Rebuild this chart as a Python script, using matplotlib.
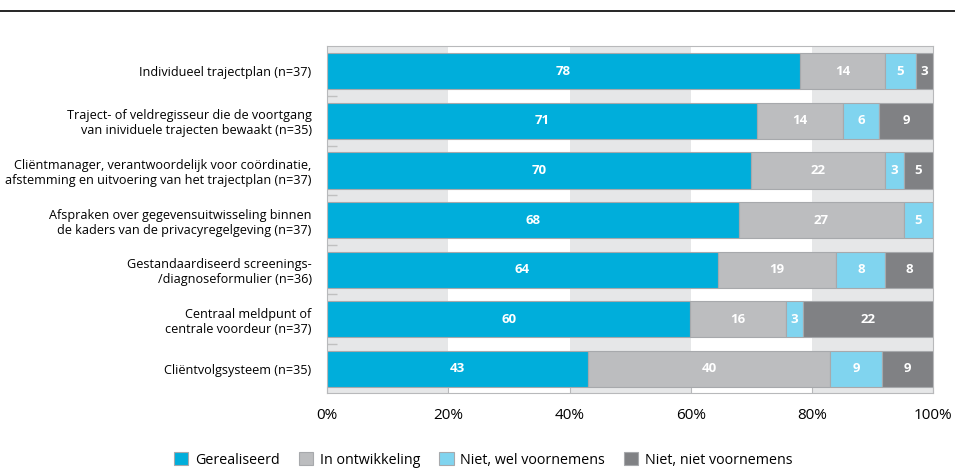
import matplotlib.pyplot as plt
from matplotlib.patches import Patch
from matplotlib.lines import Line2D

plt.rcParams['font.family'] = ['Open Sans', 'DejaVu Sans']

categories = [
    "Individueel trajectplan (n=37)",
    "Traject- of veldregisseur die de voortgang\nvan inividuele trajecten bewaakt (n=35)",
    "Cliëntmanager, verantwoordelijk voor coördinatie,\nafstemming en uitvoering van het trajectplan (n=37)",
    "Afspraken over gegevensuitwisseling binnen\nde kaders van de privacyregelgeving (n=37)",
    "Gestandaardiseerd screenings-\n/diagnoseformulier (n=36)",
    "Centraal meldpunt of\ncentrale voordeur (n=37)",
    "Cliëntvolgsysteem (n=35)",
]

# bar widths (percent)
gerealiseerd = [78.0, 71.0, 70.0, 68.0, 64.5, 59.9, 43.0]
in_ontwikkeling = [14.0, 14.1, 22.0, 27.1, 19.5, 15.8, 40.0]
wel_voornemens = [5.1, 5.9, 3.1, 4.9, 8.1, 2.8, 8.5]
niet_voornemens = [2.9, 9.0, 4.9, 0.0, 7.9, 21.5, 8.5]

# numbers printed in the bars
lab_gerealiseerd = [78, 71, 70, 68, 64, 60, 43]
lab_in_ontwikkeling = [14, 14, 22, 27, 19, 16, 40]
lab_wel_voornemens = [5, 6, 3, 5, 8, 3, 9]
lab_niet_voornemens = [3, 9, 5, None, 8, 22, 9]

series = [
    ("Gerealiseerd", gerealiseerd, lab_gerealiseerd, "#00aedb"),
    ("In ontwikkeling", in_ontwikkeling, lab_in_ontwikkeling, "#bcbdbf"),
    ("Niet, wel voornemens", wel_voornemens, lab_wel_voornemens, "#80d4ef"),
    ("Niet, niet voornemens", niet_voornemens, lab_niet_voornemens, "#808184"),
]

fig = plt.figure(figsize=(9.55, 4.7), dpi=100)
ax = fig.add_axes([327 / 955, 1 - 393 / 470, 606.3 / 955, 347 / 470])

# alternating background bands
for x0 in (0, 40, 80):
    ax.axvspan(x0, x0 + 20, color="#e6e7e8", zorder=0, lw=0)

y = list(range(len(categories)))
left = [0.0] * len(categories)
for name, vals, labs, col in series:
    ax.barh(y, vals, left=left, height=0.73, color=col, edgecolor="#a7a9ac",
            linewidth=0.8, zorder=2)
    for i, (v, l) in enumerate(zip(vals, labs)):
        if l is not None and v > 0:
            ax.text(left[i] + v / 2, i, str(l), ha="center", va="center",
                    color="white", fontsize=9.5, fontweight="bold", zorder=3)
    left = [a + b for a, b in zip(left, vals)]

ax.set_xlim(0, 100)
ax.set_ylim(6.488, -0.512)
ax.set_xticks([0, 20, 40, 60, 80, 100])
ax.set_xticklabels(["0%", "20%", "40%", "60%", "80%", "100%"], fontsize=11)
ax.set_yticks(y)
ax.set_yticklabels(categories, fontsize=9.1, linespacing=1.2)
ax.set_yticks([i + 0.5 for i in range(len(categories) - 1)], minor=True)
ax.tick_params(axis="y", which="major", length=0, pad=11)
ax.tick_params(axis="y", which="minor", direction="in", length=7,
               color="#c0c0c0", width=1)
ax.tick_params(axis="x", direction="in", length=5, color="#b8b9bb",
               pad=11, top=False)
for s in ax.spines.values():
    s.set_color("#b8b9bb")
    s.set_linewidth(0.8)

# rule across the top
fig.add_artist(Line2D([0, 1], [1 - 11 / 470, 1 - 11 / 470],
                      color="black", lw=1.2))

handles = [Patch(facecolor=c, edgecolor="#a7a9ac", lw=0.8, label=n)
           for n, _, _, c in series]
fig.legend(handles=handles, loc="center", bbox_to_anchor=(0.506, 1 - 460 / 470),
           ncol=4, frameon=False, fontsize=10.3, handlelength=1.0,
           handleheight=1.0, handletextpad=0.45, columnspacing=1.35)

fig.savefig("out.png", dpi=100)
